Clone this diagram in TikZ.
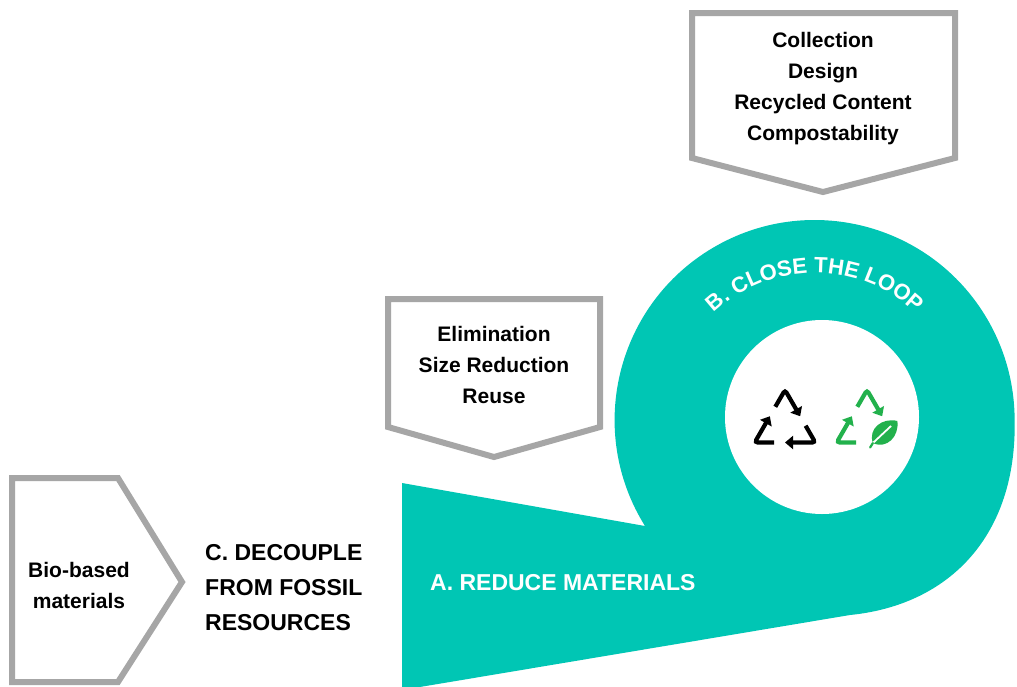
\documentclass[tikz,border=0pt]{standalone}
\usepackage{fontspec}
\setmainfont{Liberation Sans}
\usetikzlibrary{decorations.text,arrows.meta}
\definecolor{loopteal}{RGB}{0,198,180}
\definecolor{boxgray}{RGB}{166,166,166}
\definecolor{leafgreen}{RGB}{34,177,76}
\tikzset{
  callout/.style={draw=boxgray, line width=6pt, fill=white},
  boxtext/.style={font=\bfseries\fontsize{21}{31}\selectfont, align=center, inner sep=0pt, text=black},
  bigtext/.style={font=\bfseries\fontsize{23}{35}\selectfont, align=left, inner sep=0pt, anchor=west},
  recyc/.style={line width=4.2pt, rounded corners=3pt, line cap=butt, -{Triangle[width=13pt,length=8pt]}},
}
\begin{document}
\begin{tikzpicture}[x=1pt,y=-1pt]
\useasboundingbox (0,0) rectangle (1017,686);
% teal loop shape
\fill[loopteal] (402,483) -- (645,526) arc[start angle=148, end angle=360, radius=200]
  .. controls (1017,535) and (950,605) .. (850,615) -- (402,690) -- cycle;
\fill[white] (822,417) circle[radius=97];
% curved label
\path[decorate, decoration={text along path, text align=center, text color=white,
  text={|\bfseries\fontsize{22}{22}\selectfont|B. CLOSE THE LOOP}}]
  (676.9,369.7) arc[start angle=200, end angle=340, radius=147];
% callout boxes
\draw[callout] (692,13) -- (955,13) -- (955,158) -- (823,192) -- (692,158) -- cycle;
\draw[callout] (388,299) -- (600,299) -- (600,427) -- (494,457) -- (388,427) -- cycle;
\draw[callout] (12,478) -- (118,478) -- (182,582) -- (118,682) -- (12,682) -- cycle;
% texts
\node[boxtext] (closeitems) at (823,89) {Collection\\Design\\Recycled Content\\Compostability};
\node[boxtext] (reduceitems) at (494,365) {Elimination\\Size Reduction\\Reuse};
\node[boxtext] (bioitems) at (79,585) {Bio-based\\materials};
\node[bigtext] (decouple) at (205,588) {C. DECOUPLE\\FROM FOSSIL\\RESOURCES};
\node[bigtext, text=white, font=\bfseries\fontsize{23}{26}\selectfont] (reducelabel) at (430,583) {A. REDUCE MATERIALS};
% black recycling icon
\begin{scope}[shift={(785,425)}, yscale=-1]
  \foreach \k in {0,1,2} {
    \draw[recyc, black, rotate=-120*\k] (-9.7,18.2) -- (0,35) -- (15.16,8.75);
  }
\end{scope}
% green recycling icon with leaf
\begin{scope}[shift={(867,425)}, yscale=-1]
  \draw[recyc, leafgreen] (-9.7,18.2) -- (0,35) -- (15.16,8.75);
  \draw[recyc, leafgreen, rotate=-120] (-9.7,18.2) -- (0,35) -- (15.16,8.75);
\end{scope}
\begin{scope}[shift={(884,433)}, yscale=-1, rotate=-42]
  \fill[leafgreen] (-15,0) .. controls (-9,14) and (9,13) .. (18,0) .. controls (9,-13) and (-9,-14) .. (-15,0);
  \draw[white, line width=1.8pt] (-15,0) -- (10,0.5);
  \draw[leafgreen, line width=2.2pt, line cap=round] (-15,0) -- (-20,-1.5);
\end{scope}
\end{tikzpicture}
\end{document}
